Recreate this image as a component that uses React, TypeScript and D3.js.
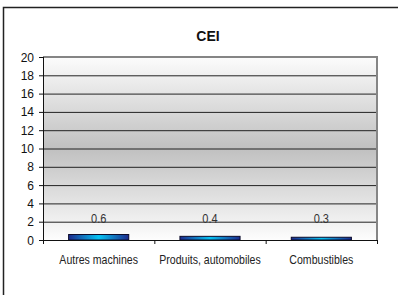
import React from 'react';
import * as d3 from 'd3';

const title = 'CEI';
const categories = ['Autres machines', 'Produits, automobiles', 'Combustibles'];
const values = [0.6, 0.4, 0.3];
const yTicks = [0, 2, 4, 6, 8, 10, 12, 14, 16, 18, 20];

const W = 398;
const H = 295;
const margin = { top: 57, right: 21, bottom: 55, left: 43 };

export default function App() {
  const x = d3
    .scaleBand<string>()
    .domain(categories)
    .range([margin.left, W - margin.right])
    .paddingInner(0.46)
    .paddingOuter(0.23);
  const y = d3.scaleLinear().domain([0, 20]).range([H - margin.bottom, margin.top]);

  const x0 = margin.left;
  const x1 = W - margin.right;
  const step = (x1 - x0) / categories.length;
  const font = 'Liberation Sans, Arial, sans-serif';

  return (
    <svg
      width={W}
      height={H}
      style={{ position: 'fixed', left: 0, top: 0, background: '#fff' }}
      fontFamily={font}
    >
      <defs>
        <linearGradient id="bg" x1="0" y1="0" x2="0" y2="1">
          <stop offset="0%" stopColor="#fcfcfc" />
          <stop offset="50%" stopColor="#c0c0c0" />
          <stop offset="100%" stopColor="#fdfdfd" />
        </linearGradient>
        <linearGradient id="bar" x1="0" y1="0" x2="1" y2="0">
          <stop offset="0%" stopColor="#1c2a8c" />
          <stop offset="50%" stopColor="#06c4f4" />
          <stop offset="100%" stopColor="#1c2a8c" />
        </linearGradient>
      </defs>

      {/* outer frame */}
      <rect x={3.5} y={7.5} width={430} height={320} fill="none" stroke="#222" strokeWidth={1.5} />

      <text x={208} y={41} textAnchor="middle" fontSize={14} fontWeight="bold" fill="#111">
        {title}
      </text>

      {/* plot area */}
      <rect x={x0} y={y(20)} width={x1 - x0} height={y(0) - y(20)} fill="url(#bg)" />
      {yTicks.slice(1, -1).map((t) => (
        <line key={t} x1={x0} x2={x1} y1={y(t) + 0.5} y2={y(t) + 0.5} stroke="#222" strokeWidth={1} />
      ))}
      <line x1={x0} x2={x1 + 1} y1={y(20)} y2={y(20)} stroke="#858585" strokeWidth={2} />
      <line x1={x1} x2={x1} y1={y(20)} y2={y(0)} stroke="#858585" strokeWidth={2} />

      {/* bars */}
      {values.map((v, i) => (
        <rect
          key={categories[i]}
          x={x(categories[i])!}
          y={y(v)}
          width={x.bandwidth()}
          height={y(0) - y(v)}
          fill="url(#bar)"
          stroke="#0b0b2a"
          strokeWidth={1}
        />
      ))}

      {/* value labels */}
      {values.map((v, i) => (
        <text
          key={'v' + i}
          transform={`translate(${x(categories[i])! + x.bandwidth() / 2},223) scale(0.92,1)`}
          textAnchor="middle"
          fontSize={12}
          fill="#333"
        >
          {v.toFixed(1)}
        </text>
      ))}

      {/* axes */}
      <line x1={x0 + 0.5} x2={x0 + 0.5} y1={y(20)} y2={y(0)} stroke="#111" />
      <line x1={x0} x2={x1 + 1} y1={y(0) + 0.5} y2={y(0) + 0.5} stroke="#111" />
      {yTicks.map((t) => (
        <g key={'t' + t}>
          <line x1={x0 - 4} x2={x0} y1={y(t) + 0.5} y2={y(t) + 0.5} stroke="#111" />
          <text x={34} y={y(t) + 4.5} textAnchor="end" fontSize={12} fill="#111">
            {t}
          </text>
        </g>
      ))}
      {d3.range(categories.length + 1).map((k) => (
        <line
          key={'c' + k}
          x1={x0 + k * step + 0.5}
          x2={x0 + k * step + 0.5}
          y1={y(0)}
          y2={y(0) + 4}
          stroke="#111"
        />
      ))}
      {categories.map((c) => (
        <text
          key={c}
          transform={`translate(${x(c)! + x.bandwidth() / 2},264) scale(0.88,1)`}
          textAnchor="middle"
          fontSize={12}
          fill="#222"
        >
          {c}
        </text>
      ))}
    </svg>
  );
}
